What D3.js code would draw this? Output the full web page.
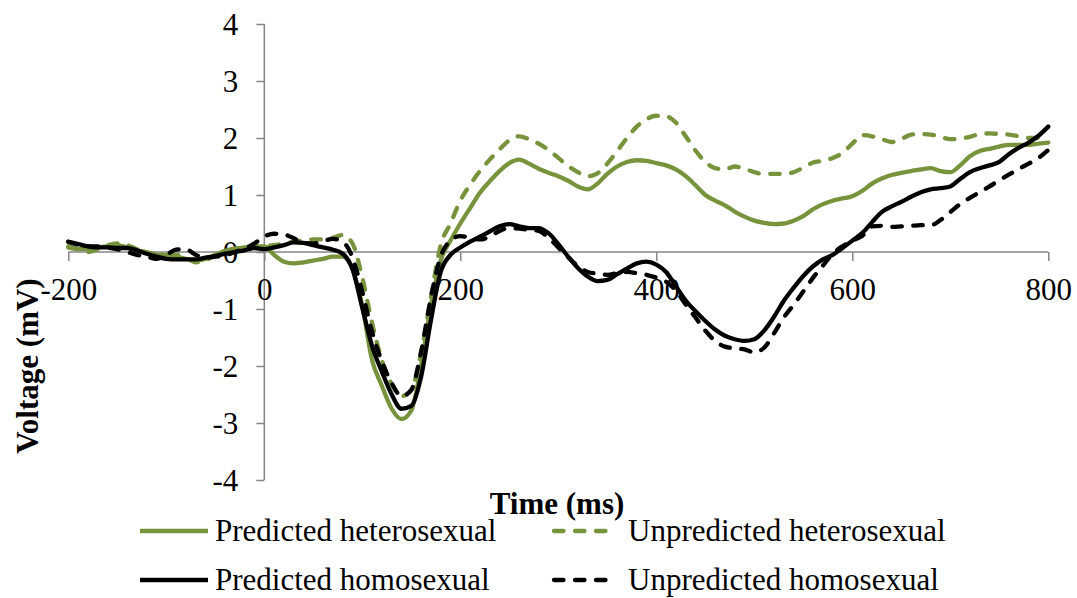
<!DOCTYPE html>
<html>
<head>
<meta charset="utf-8">
<script src="https://cdn.jsdelivr.net/npm/d3@7"></script>
<style>
  html, body { margin: 0; padding: 0; background: #ffffff; }
  svg { display: block; }
  text { font-family: "Liberation Serif", "Times New Roman", serif; fill: #000; }
</style>
</head>
<body>
<svg id="chart" width="1077" height="598"></svg>
<script>
// ---- data ----
const times = d3.range(-200, 801, 10);
const xTicks = [-200, 0, 200, 400, 600, 800];
const yTicks = [-4, -3, -2, -1, 0, 1, 2, 3, 4];
const seriesNames = ["Predicted heterosexual", "Unpredicted heterosexual", "Predicted homosexual", "Unpredicted homosexual"];

const predictedHetero = [
  0.08, 0.05, 0.05, 0.08, 0.10, 0.12, 0.08, 0.03, 0.00, -0.05,
  -0.05, -0.08, -0.12, -0.15, -0.12, -0.05, 0.02, 0.06, 0.08, 0.10,
  0.10, -0.05, -0.17, -0.20, -0.18, -0.15, -0.12, -0.08, -0.08, -0.30,
  -0.95, -1.90, -2.35, -2.75, -2.93, -2.78, -2.00, -0.95, -0.15, 0.20,
  0.50, 0.77, 1.04, 1.24, 1.42, 1.56, 1.62, 1.55, 1.46, 1.39,
  1.33, 1.25, 1.15, 1.10, 1.20, 1.37, 1.50, 1.58, 1.61, 1.60,
  1.56, 1.52, 1.45, 1.33, 1.17, 1.00, 0.90, 0.82, 0.71, 0.62,
  0.55, 0.51, 0.49, 0.50, 0.55, 0.63, 0.75, 0.84, 0.90, 0.94,
  0.98, 1.07, 1.20, 1.29, 1.35, 1.39, 1.42, 1.45, 1.47, 1.42,
  1.40, 1.52, 1.68, 1.77, 1.81, 1.85, 1.88, 1.88, 1.88, 1.90,
  1.92
];
const unpredictedHetero = [
  0.10, 0.05, 0.00, 0.05, 0.12, 0.15, 0.12, 0.05, -0.02, -0.05,
  -0.08, -0.05, -0.10, -0.18, -0.15, -0.05, 0.00, 0.03, 0.05, 0.08,
  0.10, 0.12, 0.15, 0.18, 0.20, 0.22, 0.22, 0.25, 0.30, 0.15,
  -0.45, -1.25, -1.90, -2.32, -2.53, -2.42, -1.77, -0.80, 0.12, 0.50,
  0.90, 1.18, 1.42, 1.62, 1.80, 1.96, 2.03, 1.98, 1.90, 1.79,
  1.65, 1.51, 1.40, 1.33, 1.38, 1.55, 1.77, 2.00, 2.20, 2.33,
  2.39, 2.38, 2.27, 2.03, 1.78, 1.58, 1.47, 1.45, 1.50, 1.46,
  1.40, 1.37, 1.37, 1.37, 1.40, 1.48, 1.57, 1.60, 1.65, 1.74,
  1.90, 2.05, 2.03, 1.98, 1.93, 1.98, 2.06, 2.07, 2.06, 2.02,
  1.98, 1.99, 2.02, 2.07, 2.08, 2.07, 2.06, 2.03, 2.00, 2.00,
  2.05
];
const predictedHomo = [
  0.18, 0.14, 0.10, 0.08, 0.08, 0.07, 0.07, 0.03, -0.03, -0.08,
  -0.12, -0.13, -0.13, -0.13, -0.10, -0.07, -0.03, 0.00, 0.03, 0.07,
  0.05, 0.08, 0.12, 0.17, 0.16, 0.12, 0.08, 0.04, -0.03, -0.30,
  -0.98, -1.65, -2.10, -2.50, -2.75, -2.70, -2.19, -1.20, -0.35, -0.05,
  0.08, 0.18, 0.27, 0.36, 0.45, 0.49, 0.45, 0.42, 0.42, 0.33,
  0.14, -0.08, -0.28, -0.43, -0.51, -0.49, -0.39, -0.29, -0.20, -0.17,
  -0.22, -0.35, -0.60, -0.85, -1.04, -1.21, -1.36, -1.47, -1.53, -1.56,
  -1.53, -1.38, -1.14, -0.86, -0.63, -0.42, -0.25, -0.13, -0.05, 0.07,
  0.20, 0.33, 0.52, 0.70, 0.80, 0.88, 0.97, 1.05, 1.10, 1.12,
  1.15, 1.28, 1.40, 1.47, 1.52, 1.58, 1.72, 1.83, 1.92, 2.04,
  2.20
];
const unpredictedHomo = [
  0.18, 0.13, 0.10, 0.10, 0.08, 0.05, 0.00, -0.05, -0.08, -0.12,
  -0.05, 0.04, 0.05, -0.05, -0.10, -0.08, -0.06, 0.00, 0.06, 0.15,
  0.27, 0.32, 0.31, 0.24, 0.16, 0.15, 0.19, 0.23, 0.18, -0.10,
  -0.70, -1.40, -1.92, -2.30, -2.53, -2.42, -1.75, -0.80, -0.08, 0.20,
  0.28, 0.25, 0.22, 0.27, 0.37, 0.42, 0.41, 0.39, 0.37, 0.25,
  0.08, -0.09, -0.25, -0.35, -0.38, -0.40, -0.37, -0.35, -0.37, -0.40,
  -0.45, -0.52, -0.68, -0.92, -1.15, -1.38, -1.56, -1.66, -1.69, -1.71,
  -1.76, -1.68, -1.43, -1.15, -0.93, -0.69, -0.45, -0.24, -0.03, 0.10,
  0.20, 0.28, 0.45, 0.46, 0.44, 0.45, 0.46, 0.47, 0.47, 0.56,
  0.70, 0.84, 0.95, 1.05, 1.15, 1.26, 1.36, 1.46, 1.55, 1.65,
  1.79
];

// ---- styles ----
const GREEN = "#77933C";
const AXIS = "#868686";
const FONT_SIZE = "31px";
const series = [
  { name: seriesNames[0], values: predictedHetero,   color: GREEN,  dashed: false },
  { name: seriesNames[1], values: unpredictedHetero, color: GREEN,  dashed: true  },
  { name: seriesNames[2], values: predictedHomo,     color: "#000", dashed: false },
  { name: seriesNames[3], values: unpredictedHomo,   color: "#000", dashed: true  }
];

const svg = d3.select("#chart");
const x = d3.scaleLinear().domain([-200, 800]).range([68.3, 1048.3]);
const y = d3.scaleLinear().domain([-4, 4]).range([480, 24]);

// y axis at x = 0
const yAxis = svg.append("g").attr("transform", `translate(${x(0)},0)`)
  .call(d3.axisLeft(y).tickValues(yTicks).tickSize(8).tickPadding(18).tickFormat(d3.format("d")));
yAxis.select(".domain").attr("stroke", AXIS).attr("stroke-width", 1.5).attr("d", `M0,${y(4)}V${y(-4)}`);
yAxis.selectAll(".tick line").attr("stroke", AXIS).attr("stroke-width", 1.5);
yAxis.selectAll(".tick text").attr("font-size", FONT_SIZE).attr("font-family", "Liberation Serif").attr("fill", "#000")
  .attr("dy", "0.34em").text(d => d < 0 ? "-" + Math.abs(d) : d);

// x axis at y = 0
const xAxis = svg.append("g").attr("transform", `translate(0,${y(0)})`)
  .call(d3.axisBottom(x).tickValues(xTicks).tickSize(9).tickPadding(17).tickFormat(d3.format("d")));
xAxis.select(".domain").attr("stroke", AXIS).attr("stroke-width", 1.5).attr("d", `M${x(-200)},0H${x(800)}`);
xAxis.selectAll(".tick line").attr("stroke", AXIS).attr("stroke-width", 1.5);
xAxis.selectAll(".tick text").attr("font-size", FONT_SIZE).attr("font-family", "Liberation Serif").attr("fill", "#000")
  .text(d => d < 0 ? "-" + Math.abs(d) : d);

// lines
const line = d3.line()
  .x((d, i) => x(times[i]))
  .y(d => y(d))
  .curve(d3.curveMonotoneX);

series.forEach(s => {
  svg.append("path")
    .datum(s.values)
    .attr("fill", "none")
    .attr("stroke", s.color)
    .attr("stroke-width", 4.3)
    .attr("stroke-linejoin", "round")
    .attr("stroke-linecap", "round")
    .attr("stroke-dasharray", s.dashed ? "9.5,11.5" : null)
    .attr("d", line);
});

// axis titles
svg.append("text")
  .attr("x", 557).attr("y", 514)
  .attr("text-anchor", "middle")
  .attr("font-size", FONT_SIZE).attr("font-weight", "bold")
  .text("Time (ms)");

svg.append("text")
  .attr("transform", "translate(38,366) rotate(-90)")
  .attr("text-anchor", "middle")
  .attr("font-size", FONT_SIZE).attr("font-weight", "bold")
  .text("Voltage (mV)");

// legend
const legendPos = [
  { lx: 140, ly: 531 },
  { lx: 552, ly: 531 },
  { lx: 140, ly: 580 },
  { lx: 552, ly: 580 }
];
series.forEach((s, i) => {
  const p = legendPos[i];
  const g = svg.append("g").attr("transform", `translate(${p.lx},${p.ly})`);
  g.append("line")
    .attr("x1", s.dashed ? 2 : 0).attr("x2", s.dashed ? 61 : 68)
    .attr("y1", 0).attr("y2", 0)
    .attr("stroke", s.color).attr("stroke-width", 4.3)
    .attr("stroke-linecap", s.dashed ? "round" : "butt")
    .attr("stroke-dasharray", s.dashed ? "9.5,11.5" : null);
  g.append("text")
    .attr("x", s.dashed ? 76 : 75).attr("y", 0).attr("dy", "0.32em")
    .attr("font-size", FONT_SIZE)
    .text(s.name);
});
</script>
</body>
</html>
